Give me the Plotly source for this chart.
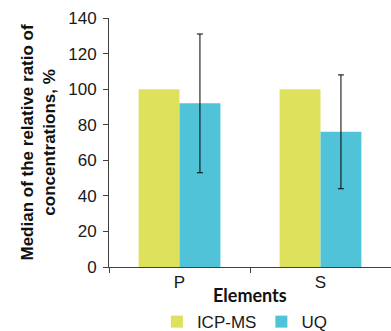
import plotly.graph_objects as go

categories = ["P", "S"]
icp_ms = [100, 100]
uq = [92, 76]
uq_err = [39, 32]

fig = go.Figure()
fig.add_trace(go.Bar(name="ICP-MS", x=categories, y=icp_ms, marker_color="#DDE15C",
                     marker_line_width=0))
fig.add_trace(go.Bar(name="UQ", x=categories, y=uq, marker_color="#51C3D9",
                     marker_line_width=0,
                     error_y=dict(type="data", array=uq_err, visible=True,
                                  color="#000000", thickness=1, width=3)))

axis_color = "#404040"
fig.update_layout(
    width=391, height=331,
    margin=dict(l=109, r=0, t=18, b=64, autoexpand=False),
    plot_bgcolor="white", paper_bgcolor="white",
    barmode="group", bargap=0.42, bargroupgap=0,
    font=dict(family="Liberation Sans, Arial", size=17, color="#1a1a1a"),
    showlegend=True,
    legend=dict(orientation="h", x=0.625, xanchor="center", xref="container",
                y=0.027, yanchor="middle", yref="container",
                font=dict(size=17), itemwidth=30, tracegroupgap=0),
    xaxis=dict(showline=True, linecolor=axis_color, linewidth=1,
               ticks="outside", tickson="boundaries", ticklen=5,
               tickcolor=axis_color, showgrid=False, range=[-0.5, 1.5],
               ticklabelstandoff=0),
    yaxis=dict(showline=True, linecolor=axis_color, linewidth=1,
               ticks="outside", ticklen=5, tickcolor=axis_color,
               range=[0, 140], dtick=20, showgrid=False, zeroline=False,
               ticklabelstandoff=3),
    annotations=[
        dict(text="<b>Elements</b>", xref="paper", yref="paper", x=0.5, y=0,
             yshift=-28, xanchor="center", yanchor="middle", showarrow=False,
             font=dict(family="Lato, Liberation Sans", size=18, color="#111111")),
        dict(text="<b>Median of the relative ratio of<br>concentrations, %</b>",
             xref="paper", yref="paper", x=0, xshift=-71, y=0.5,
             xanchor="center", yanchor="middle", textangle=-90, showarrow=False,
             font=dict(family="Liberation Sans, Arial", size=17, color="#111111")),
    ],
)
fig.write_html("out.html", config={"displayModeBar": False},
               post_script="document.body.style.margin='0';document.body.style.padding='0';")
